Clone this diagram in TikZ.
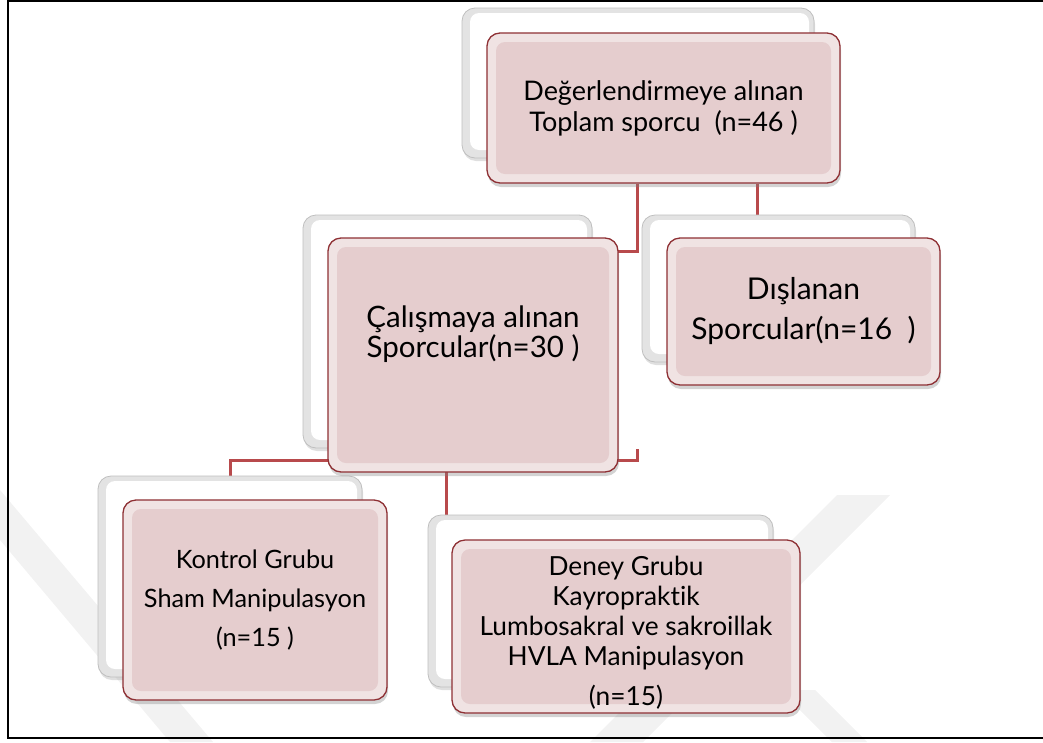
\documentclass[tikz,border=0pt]{standalone}
\usepackage{fontspec}
\setmainfont{Lato}[Ligatures=NoCommon]
\usetikzlibrary{shadows,calc}
\definecolor{pinkface}{HTML}{E5CDCE}
\definecolor{pinkrim}{HTML}{F0E3E3}
\definecolor{boxborder}{HTML}{8E3034}
\definecolor{connred}{HTML}{B84A4C}
\definecolor{wmgrey}{HTML}{F2F2F2}
\pgfdeclarelayer{wmark}
\pgfdeclarelayer{lines}
\pgfsetlayers{wmark,lines,main}
\begin{document}
\begin{tikzpicture}[x=1pt,y=-1pt,
  face/.style={rectangle, rounded corners=13pt, fill=pinkrim, draw=boxborder, line width=1.3pt,
    inner sep=0pt, align=center, text=black,
    drop shadow={shadow xshift=1pt, shadow yshift=-4pt, opacity=0.35},
    path picture={\fill[pinkface, rounded corners=9pt]
      ([shift={(9pt,-9pt)}]path picture bounding box.north west) rectangle
      ([shift={(-9pt,9pt)}]path picture bounding box.south east);}},
  back/.style={rectangle, rounded corners=13pt, fill=gray!22, draw=gray!50, line width=0.8pt,
    inner sep=0pt,
    drop shadow={shadow xshift=1pt, shadow yshift=-3pt, opacity=0.25},
    path picture={\fill[white, rounded corners=9pt]
      ([shift={(8pt,-5pt)}]path picture bounding box.north west) rectangle
      ([shift={(-5pt,8pt)}]path picture bounding box.south east);}},
  conn/.style={draw=connred, line width=3pt},
  frame/.style={draw=black, line width=1.6pt}]
\useasboundingbox (0,0) rectangle (1043,742);

% watermark
\begin{pgfonlayer}{wmark}
\fill[wmgrey] (0,490) -- (213,742) -- (170,742) -- (0,540) -- cycle;
\fill[wmgrey] (837,495) -- (890,495) -- (643,742) -- (590,742) -- cycle;
\fill[wmgrey] (780,690) -- (815,690) -- (867,742) -- (832,742) -- cycle;
\end{pgfonlayer}

% frame
\draw[frame] (1043,1) -- (8,1) -- (8,738) -- (1043,738);

% back boxes
\node[back, minimum width=352pt, minimum height=150pt] (topb) at (638,83) {};
\node[back, minimum width=289pt, minimum height=233pt] (calb) at (447.5,331.5) {};
\node[back, minimum width=273pt, minimum height=147pt] (disb) at (778.5,288.5) {};
\node[back, minimum width=264pt, minimum height=201pt] (konb) at (230,576.5) {};
\node[back, minimum width=345pt, minimum height=172pt] (denb) at (600.5,601) {};

% front boxes
\node[face, minimum width=353pt, minimum height=150pt, font=\fontsize{27}{31}\selectfont]
  (top) at (663.5,108) {Değerlendirmeye alınan\\Toplam sporcu\ \ (n=46 )};
\node[face, minimum width=290pt, minimum height=234pt, font=\fontsize{29.5}{30}\selectfont]
  (cal) at (473,355) {Çalışmaya alınan\\Sporcular(n=30 )\\[16pt]\mbox{}};
\node[face, minimum width=273pt, minimum height=147pt, font=\fontsize{30}{40}\selectfont]
  (dis) at (803.5,311.5) {Dışlanan\\Sporcular(n=16\ \ )};
\node[face, minimum width=264pt, minimum height=200pt, font=\fontsize{25.3}{39}\selectfont]
  (kon) at (255,600) {Kontrol Grubu\\Sham Manipulasyon\\(n=15 )};
\node[face, minimum width=348pt, minimum height=173pt, font=\fontsize{26.3}{30}\selectfont]
  (den) at (626,626.5) {\rule{0pt}{32pt}Deney Grubu\\Kayropraktik\\Lumbosakral ve sakroillak\\HVLA Manipulasyon\\[10pt](n=15)};

% connectors
\coordinate (t1) at ([xshift=151pt]top.south west);
\coordinate (t2) at ([xshift=271pt]top.south west);
\coordinate (bh) at ([yshift=12pt]cal.south);
\coordinate (dtop) at ([xshift=19pt]denb.north west);
\begin{pgfonlayer}{lines}
\draw[conn] (t1) |- ([xshift=-20pt,yshift=-14pt]cal.north east);
\draw[conn] (t2) -- (t2 |- disb.north);
\draw[conn] (konb.north) |- ([yshift=12pt]cal.south east) -- ++(19,0) -- ++(0,-12);
\draw[conn] (dtop) -- (dtop |- bh);
\end{pgfonlayer}
\end{tikzpicture}
\end{document}
